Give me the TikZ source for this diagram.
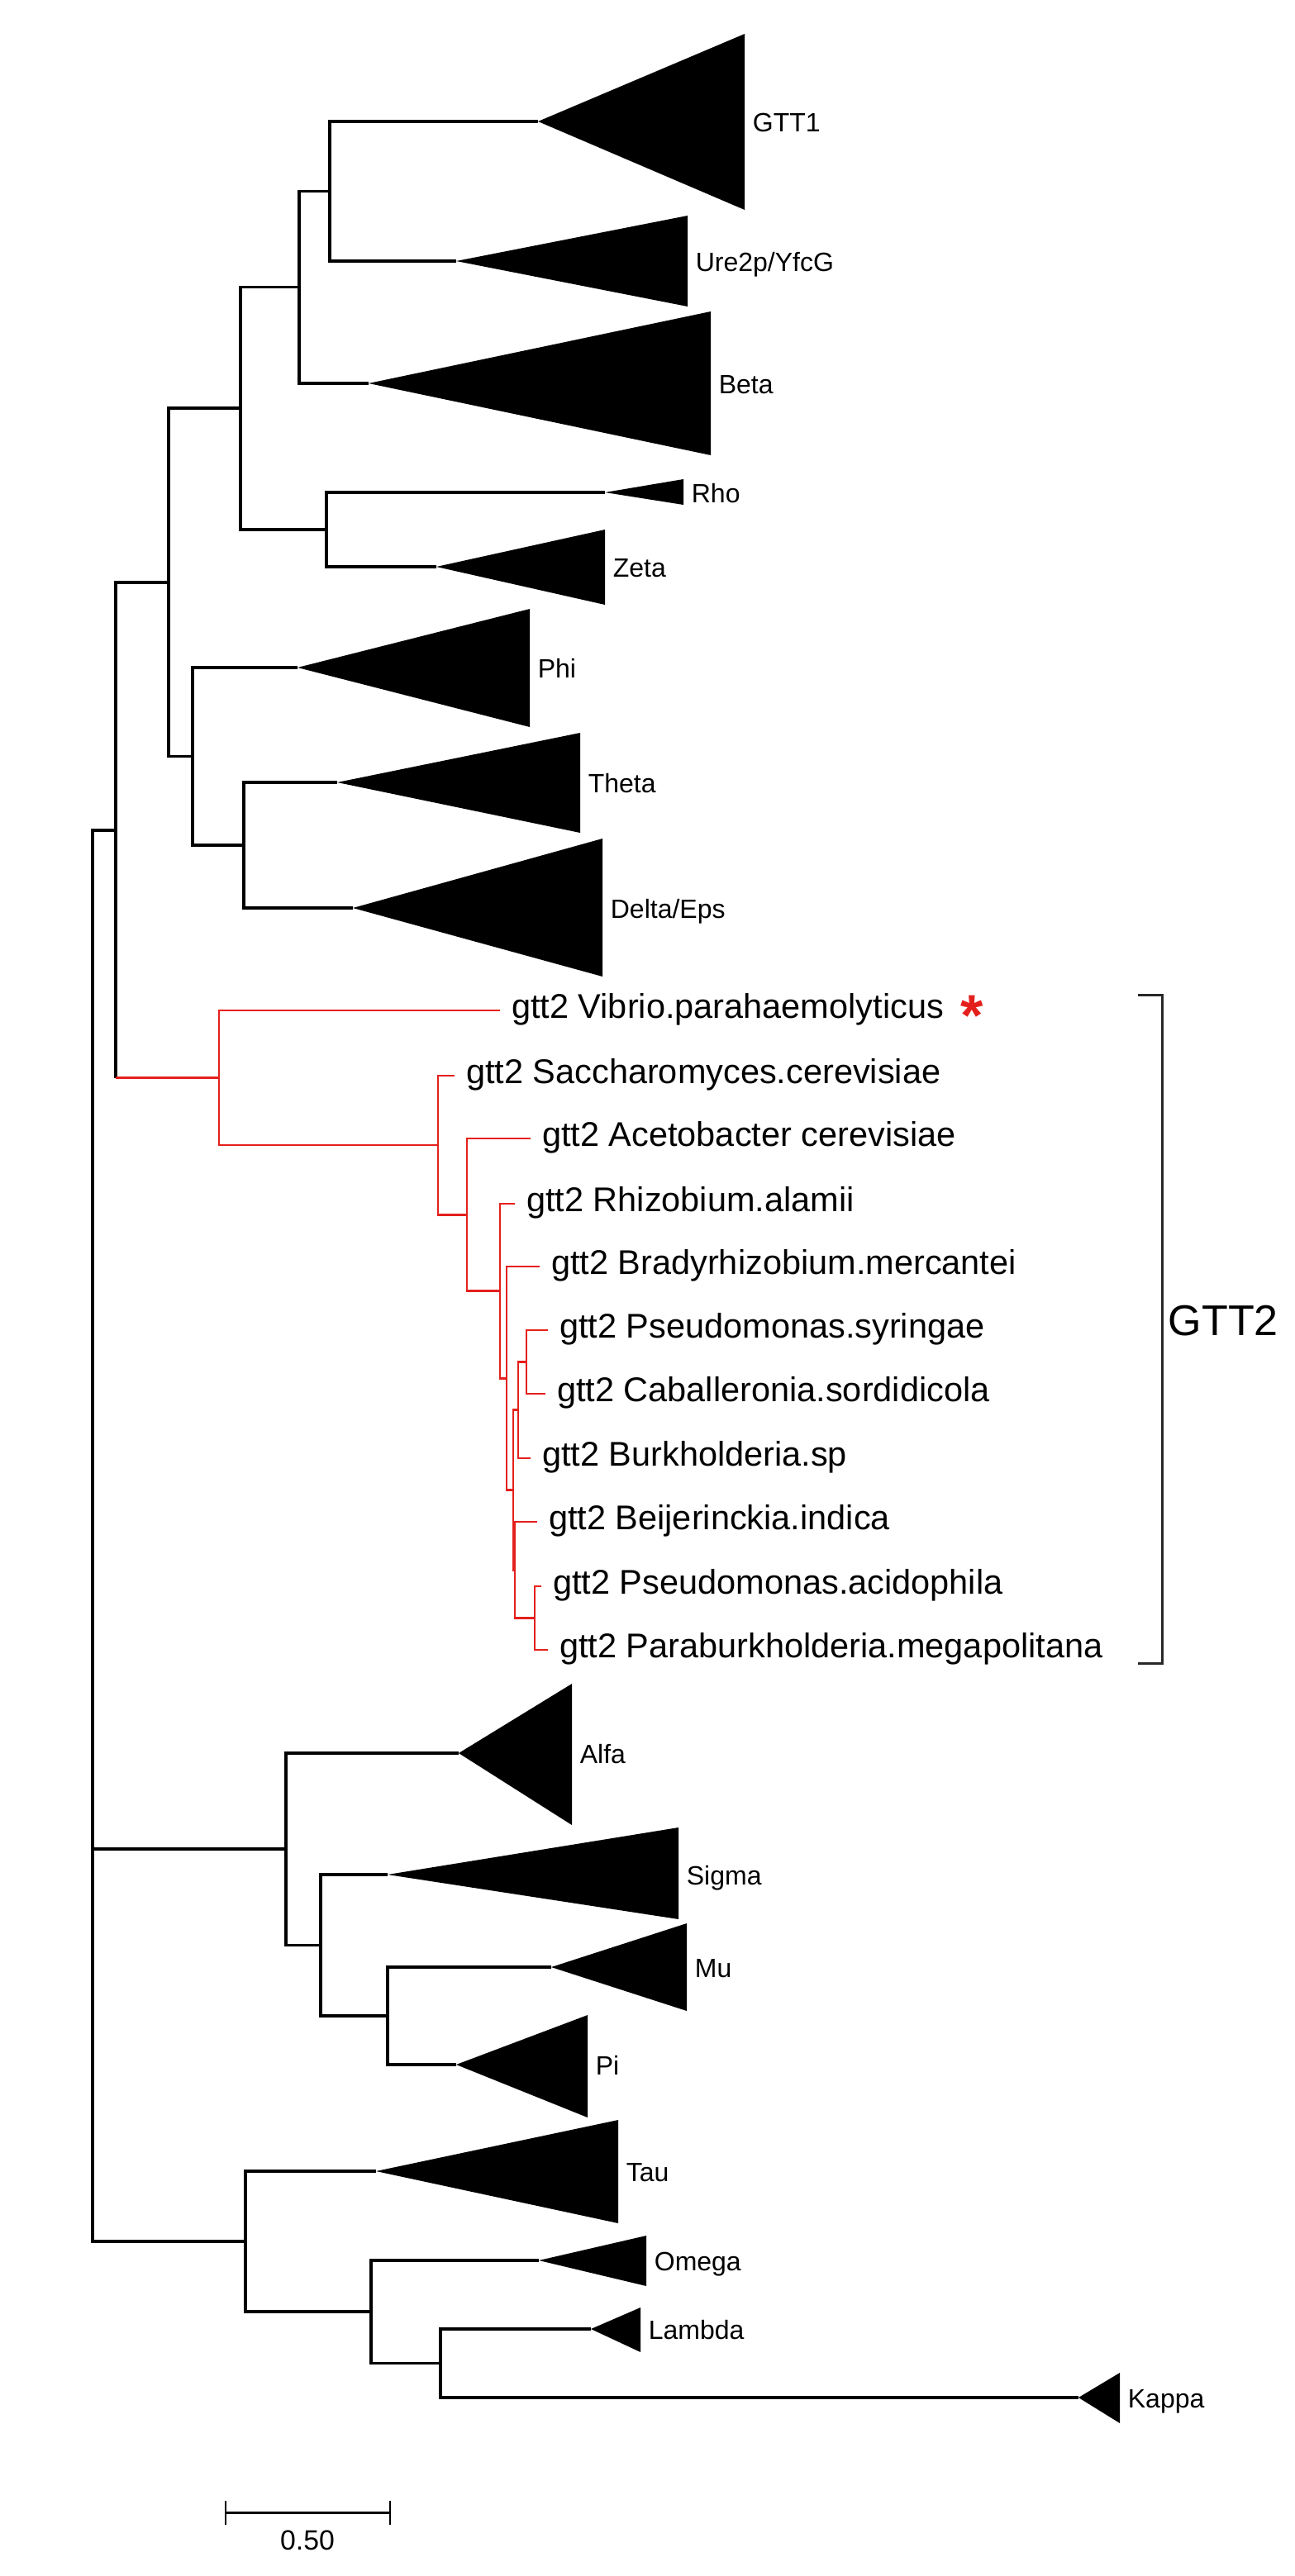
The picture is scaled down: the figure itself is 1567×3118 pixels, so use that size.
\documentclass[tikz,border=0pt]{standalone}
\usepackage{fontspec}
\setmainfont{Liberation Sans}
\usepackage{tikz}
\definecolor{treered}{RGB}{228,32,28}
\definecolor{brgray}{RGB}{40,40,40}

\begin{document}
\begin{tikzpicture}[x=0.01cm, y=-0.01cm, line width=1pt,
  br/.style={black, line width=1.05pt},
  rbr/.style={treered, line width=0.8pt},
  clade/.style={fill=black},
  cladelab/.style={anchor=mid west, inner sep=0pt, xshift=2.3pt, yshift=-0.8pt, font=\fontsize{9.1}{10}\selectfont},
  leaflab/.style={anchor=mid west, inner sep=0pt, xshift=3.5pt, font=\fontsize{11.8}{13}\selectfont}]
\useasboundingbox (0,0) rectangle (1567,3118);

\coordinate (root) at (112,1860) ;
\coordinate (n1) at (399,231.5) ;
\coordinate (n2) at (362,347.5) ;
\coordinate (n3) at (291,494) ;
\coordinate (n4) at (204,705) ;
\coordinate (n5) at (395,641) ;
\coordinate (n6) at (233,915.5) ;
\coordinate (n7) at (295,1023) ;
\coordinate (n8) at (140,1004.75) ;
\coordinate (n8low) at (140,1304.5) ;
\coordinate (n10) at (346,2238) ;
\coordinate (n11) at (388,2354.5) ;
\coordinate (n12) at (469,2440) ;
\coordinate (n13) at (297,2713) ;
\coordinate (n14) at (449,2798) ;
\coordinate (n15) at (533,2860.5) ;

\coordinate (gtt1) at (651,147) ;
\coordinate (ure) at (552,316) ;
\coordinate (beta) at (446,464) ;
\coordinate (rho) at (732,596) ;
\coordinate (zeta) at (528,686) ;
\coordinate (phi) at (360,808) ;
\coordinate (theta) at (408,947) ;
\coordinate (delta) at (427,1099) ;
\coordinate (alfa) at (555,2122) ;
\coordinate (sigma) at (469,2269) ;
\coordinate (mu) at (667,2381) ;
\coordinate (pi) at (552,2499) ;
\coordinate (tau) at (455,2628) ;
\coordinate (omega) at (652,2736) ;
\coordinate (lambda) at (715,2819) ;
\coordinate (kappa) at (1305,2902) ;

\draw[br] (gtt1) -| (n1) |- (ure) ;
\draw[br] (n1) -| (n2) |- (beta) ;
\draw[br] (rho) -| (n5) |- (zeta) ;
\draw[br] (n2) -| (n3) |- (n5) ;
\draw[br] (theta) -| (n7) |- (delta) ;
\draw[br] (phi) -| (n6) |- (n7) ;
\draw[br] (n3) -| (n4) |- (n6) ;
\draw[br] (n4) -| (n8) -- (n8low) ;
\draw[br] (mu) -| (n12) |- (pi) ;
\draw[br] (sigma) -| (n11) |- (n12) ;
\draw[br] (alfa) -| (n10) |- (n11) ;
\draw[br] (lambda) -| (n15) |- (kappa) ;
\draw[br] (omega) -| (n14) |- (n15) ;
\draw[br] (tau) -| (n13) |- (n14) ;
\draw[br] (n8) -| (root) |- (n13) ;
\draw[br] (root) |- (n10) ;

\fill[clade] (gtt1) -- (901,41) -- (901,254) -- cycle ;
\fill[clade] (ure) -- (832,261) -- (832,371) -- cycle ;
\fill[clade] (beta) -- (860,377) -- (860,551) -- cycle ;
\fill[clade] (rho) -- (827,580) -- (827,611) -- cycle ;
\fill[clade] (zeta) -- (732,641) -- (732,732) -- cycle ;
\fill[clade] (phi) -- (641,737) -- (641,880) -- cycle ;
\fill[clade] (theta) -- (702,887) -- (702,1008) -- cycle ;
\fill[clade] (delta) -- (729,1015) -- (729,1182) -- cycle ;
\fill[clade] (alfa) -- (692,2038) -- (692,2209) -- cycle ;
\fill[clade] (sigma) -- (821,2212) -- (821,2323) -- cycle ;
\fill[clade] (mu) -- (831,2328) -- (831,2434) -- cycle ;
\fill[clade] (pi) -- (711,2439) -- (711,2563) -- cycle ;
\fill[clade] (tau) -- (748,2566) -- (748,2691) -- cycle ;
\fill[clade] (omega) -- (782,2706) -- (782,2767) -- cycle ;
\fill[clade] (lambda) -- (775,2793) -- (775,2847) -- cycle ;
\fill[clade] (kappa) -- (1355,2872) -- (1355,2933) -- cycle ;

\node[cladelab] (lgtt1) at (901,147) {GTT1} ;
\node[cladelab] (lure) at (832,316) {Ure2p/YfcG} ;
\node[cladelab] (lbeta) at (860,464) {Beta} ;
\node[cladelab] (lrho) at (827,596) {Rho} ;
\node[cladelab] (lzeta) at (732,686) {Zeta} ;
\node[cladelab] (lphi) at (641,808) {Phi} ;
\node[cladelab] (ltheta) at (702,947) {Theta} ;
\node[cladelab] (ldelta) at (729,1099) {Delta/Eps} ;
\node[cladelab] (lalfa) at (692,2122) {Alfa} ;
\node[cladelab] (lsigma) at (821,2269) {Sigma} ;
\node[cladelab] (lmu) at (831,2381) {Mu} ;
\node[cladelab] (lpi) at (711,2499) {Pi} ;
\node[cladelab] (ltau) at (748,2628) {Tau} ;
\node[cladelab] (lomega) at (782,2736) {Omega} ;
\node[cladelab] (llambda) at (775,2819) {Lambda} ;
\node[cladelab] (lkappa) at (1355,2902) {Kappa} ;

\coordinate (r1) at (265,1304.5) ;
\coordinate (r2) at (530,1386) ;
\coordinate (r3) at (565,1470.3) ;
\coordinate (r4) at (605,1562.6) ;
\coordinate (r5) at (613,1668.3) ;
\coordinate (r6) at (621,1803.5) ;
\coordinate (r7) at (627,1706.8) ;
\coordinate (r8) at (637,1648.5) ;
\coordinate (r9) at (623,1900.3) ;
\coordinate (r10) at (647,1958.5) ;

\coordinate (vib) at (605,1223) ;
\coordinate (sac) at (550,1302) ;
\coordinate (ace) at (642,1378) ;
\coordinate (rhi) at (623,1457) ;
\coordinate (bra) at (653,1533) ;
\coordinate (psy) at (663,1610) ;
\coordinate (cab) at (660,1687) ;
\coordinate (bur) at (642,1765) ;
\coordinate (bei) at (650,1842) ;
\coordinate (pac) at (655,1920) ;
\coordinate (par) at (663,1997) ;

\draw[rbr] (n8low) -- (r1) ;
\draw[rbr] (vib) -| (r1) |- (r2) ;
\draw[rbr] (sac) -| (r2) |- (r3) ;
\draw[rbr] (ace) -| (r3) |- (r4) ;
\draw[rbr] (rhi) -| (r4) |- (r5) ;
\draw[rbr] (bra) -| (r5) |- (r6) ;
\draw[rbr] (r7) -| (r6) |- (r9) ;
\draw[rbr] (r8) -| (r7) |- (bur) ;
\draw[rbr] (psy) -| (r8) |- (cab) ;
\draw[rbr] (bei) -| (r9) |- (r10) ;
\draw[rbr] (pac) -| (r10) |- (par) ;

\node[leaflab] (lvib) at (vib) {gtt2 Vibrio.parahaemolyticus} ;
\node[leaflab] (lsac) at (sac) {gtt2 Saccharomyces.cerevisiae} ;
\node[leaflab] (lace) at (ace) {gtt2 Acetobacter cerevisiae} ;
\node[leaflab] (lrhi) at (rhi) {gtt2 Rhizobium.alamii} ;
\node[leaflab] (lbra) at (bra) {gtt2 Bradyrhizobium.mercantei} ;
\node[leaflab] (lpsy) at (psy) {gtt2 Pseudomonas.syringae} ;
\node[leaflab] (lcab) at (cab) {gtt2 Caballeronia.sordidicola} ;
\node[leaflab] (lbur) at (bur) {gtt2 Burkholderia.sp} ;
\node[leaflab] (lbei) at (bei) {gtt2 Beijerinckia.indica} ;
\node[leaflab] (lpac) at (pac) {gtt2 Pseudomonas.acidophila} ;
\node[leaflab] (lpar) at (par) {gtt2 Paraburkholderia.megapolitana} ;
\node[anchor=base, inner sep=0pt, text=treered, font=\fontsize{20}{20}\selectfont\bfseries] (star) at (1176,1253) {*} ;

\coordinate (brtl) at (1377,1204.5) ;
\coordinate (brt) at (1406,1204.5) ;
\coordinate (brb) at (1406,2013) ;
\coordinate (brbl) at (1377,2013) ;
\draw[brgray, line width=0.85pt] (brtl) -- (brt) -- (brb) -- (brbl) ;
\node[anchor=mid west, inner sep=0pt, font=\fontsize{14.8}{16}\selectfont] (lgtt2) at (1412,1607) {GTT2} ;

\coordinate (sbl) at (273,3041.5) ;
\coordinate (sbr) at (472,3041.5) ;
\draw[br] (sbl) -- (sbr) ;
\draw[br, line width=0.7pt] ([yshift=4pt]sbl) -- ([yshift=-4pt]sbl) ;
\draw[br, line width=0.7pt] ([yshift=4pt]sbr) -- ([yshift=-4pt]sbr) ;
\node[font=\fontsize{9.6}{10}\selectfont, inner sep=0pt] (lsb) at (372,3075) {0.50} ;
\end{tikzpicture}
\end{document}
